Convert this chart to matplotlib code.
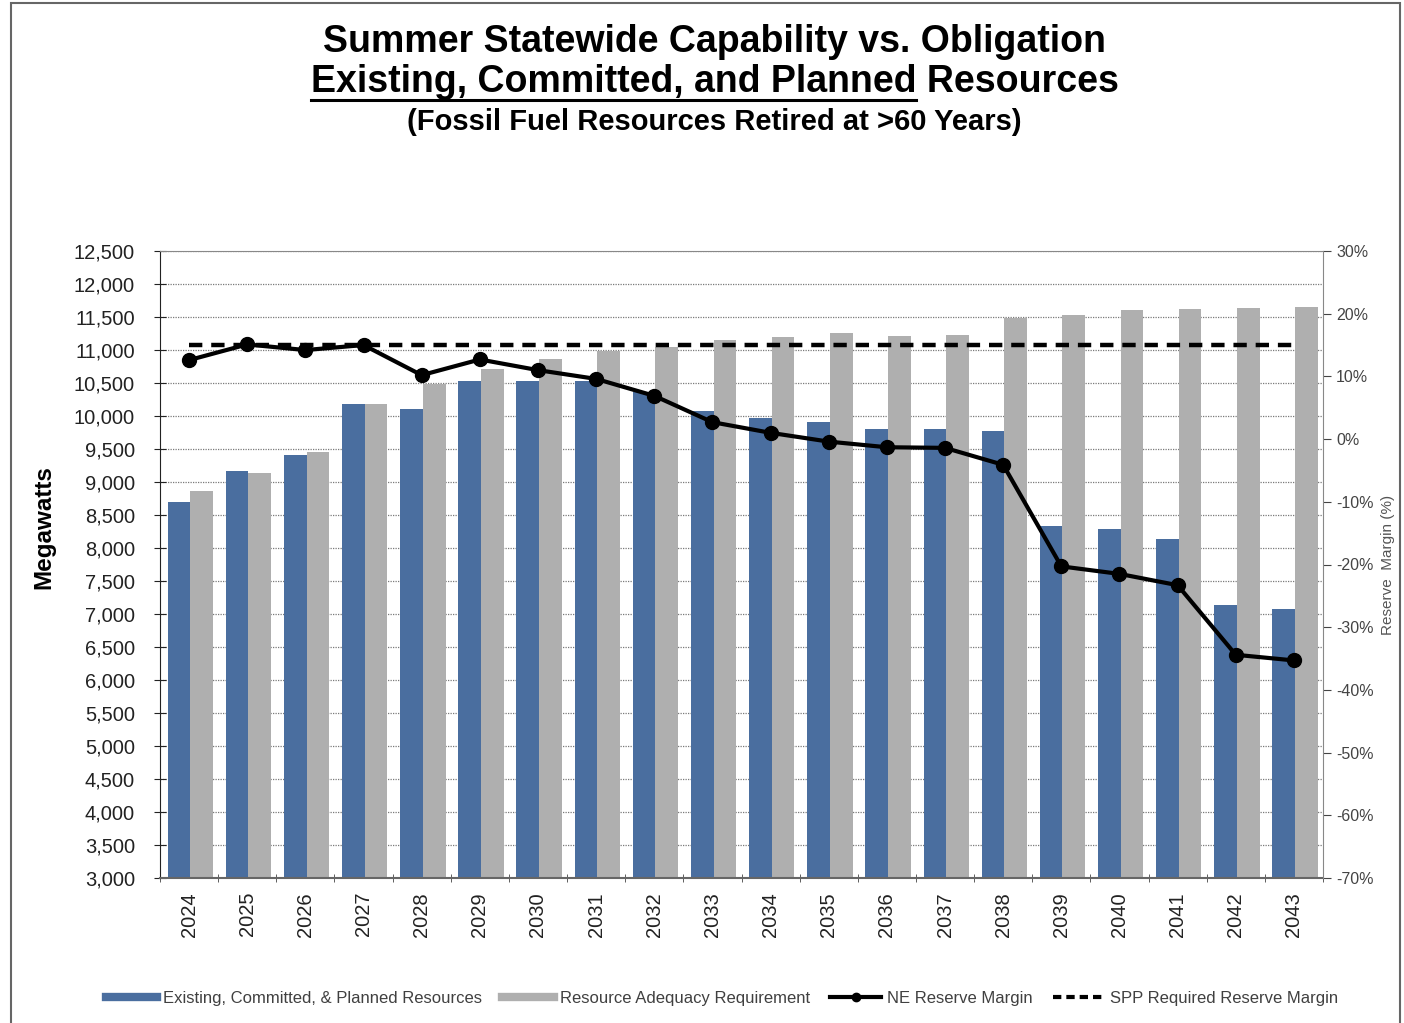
import matplotlib.pyplot as plt
from matplotlib.lines import Line2D
from matplotlib.patches import Rectangle
from matplotlib.ticker import FuncFormatter
import numpy as np

plt.rcParams['font.family'] = ['Liberation Sans', 'DejaVu Sans']

years = ['2024', '2025', '2026', '2027', '2028', '2029', '2030', '2031', '2032', '2033',
         '2034', '2035', '2036', '2037', '2038', '2039', '2040', '2041', '2042', '2043']
resources = [8700, 9160, 9415, 10175, 10100, 10525, 10525, 10525, 10365, 10070,
             9965, 9905, 9805, 9805, 9775, 8335, 8295, 8140, 7135, 7070]
requirement = [8860, 9140, 9460, 10175, 10490, 10710, 10870, 10990, 11045, 11155,
               11190, 11255, 11215, 11225, 11480, 11530, 11605, 11620, 11635, 11650]
ne_margin = [12.6, 15.1, 14.2, 15.0, 10.2, 12.7, 11.0, 9.6, 6.9, 2.7,
             1.0, -0.4, -1.3, -1.4, -4.1, -20.3, -21.5, -23.3, -34.4, -35.3]
spp_margin = [15] * len(years)

blue = '#4A6E9F'
grey = '#AFAFAF'

fig = plt.figure(figsize=(14.04, 10.23), dpi=100)
ax = fig.add_axes([160 / 1404, 1 - 878 / 1023, 1163 / 1404, 627 / 1023])

x = np.arange(len(years))
w = 0.39
ax.bar(x - w / 2 + 0.02, resources, w, color=blue, zorder=2)
ax.bar(x + w / 2 + 0.02, requirement, w, color=grey, zorder=2)

ax.set_xlim(-0.5, len(years) - 0.5)
ax.set_ylim(3000, 12500)
ax.set_yticks(np.arange(3000, 12501, 500))
ax.yaxis.set_major_formatter(FuncFormatter(lambda v, p: f'{int(v):,}'))
ax.grid(axis='y', color='#7a7a7a', linestyle=(0, (1, 1)), linewidth=0.9, zorder=0)
ax.set_xticks(x)
ax.set_xticklabels(years, rotation=90, fontsize=14.5, color='#222222')
ax.set_xticks(np.arange(-0.5, len(years), 1), minor=True)
ax.tick_params(axis='x', which='major', length=0, pad=10)
ax.tick_params(axis='x', which='minor', length=6, direction='inout', color='#444444')
ax.tick_params(axis='y', labelsize=14.5, length=8, direction='inout', colors='#222222', pad=14)
ax.set_ylabel('Megawatts', fontsize=17.5, fontweight='bold')
ax.yaxis.set_label_coords(-0.09, 0.56)
ax.spines['top'].set_color('#888888')
ax.spines['right'].set_visible(False)
ax.spines['bottom'].set_color('#666666')
ax.spines['bottom'].set_linewidth(1.5)
ax.spines['left'].set_color('#222222')

ax2 = ax.twinx()
ax2.plot(x, ne_margin, color='black', lw=3, marker='o', ms=10, zorder=4)
ax2.plot(x, spp_margin, color='black', lw=3.2, linestyle=(0, (3, 2)), zorder=3)
ax2.set_ylim(-70, 30)
ax2.set_yticks(np.arange(-70, 31, 10))
ax2.yaxis.set_major_formatter(FuncFormatter(lambda v, p: f'{int(v)}%'))
ax2.tick_params(axis='y', labelsize=11.5, length=6, direction='out', colors='#444444')
ax2.spines['right'].set_color('#888888')
ax2.spines['top'].set_visible(False)
ax2.spines['left'].set_visible(False)
ax2.spines['bottom'].set_visible(False)
ax2.set_ylabel('Reserve  Margin (%)', fontsize=11, color='#555555')
ax2.yaxis.set_label_coords(1.05, 0.5)

handles = [Line2D([], [], color=blue, lw=6),
           Line2D([], [], color=grey, lw=6),
           Line2D([], [], color='black', lw=3, marker='o', ms=6),
           Line2D([], [], color='black', lw=3, linestyle=(0, (2, 1.2)))]
labels = ['Existing, Committed, & Planned Resources', 'Resource Adequacy Requirement',
          'NE Reserve Margin', 'SPP Required Reserve Margin']
fig.legend(handles, labels, loc='center', bbox_to_anchor=(722 / 1404, 1 - 998 / 1023),
           ncol=4, frameon=False, fontsize=12, handlelength=3.1, handletextpad=0.35,
           columnspacing=1.2, labelcolor='#404040')

# titles
fig.text(0.509, 1 - 42 / 1023, 'Summer Statewide Capability vs. Obligation',
         ha='center', va='center', fontsize=27, fontweight='bold')
t2 = fig.text(0.509, 1 - 82 / 1023, 'Existing, Committed, and Planned Resources',
              ha='center', va='center', fontsize=27, fontweight='bold')
fig.text(0.509, 1 - 122 / 1023, '(Fossil Fuel Resources Retired at >60 Years)',
         ha='center', va='center', fontsize=21, fontweight='bold')

# underline the first part of the second title line
renderer = fig.canvas.get_renderer()
full = t2.get_window_extent(renderer)
tmp = fig.text(0, 0, 'Existing, Committed, and Planned', fontsize=27, fontweight='bold')
part = tmp.get_window_extent(renderer)
tmp.remove()
x0 = full.x0 / fig.bbox.width
x1 = (full.x0 + part.width) / fig.bbox.width
fig.add_artist(Line2D([x0, x1], [1 - 100 / 1023] * 2, color='black', lw=2.2))

fig.add_artist(Rectangle((11 / 1404, -0.01), 1389 / 1404, 1.007, fill=False,
                         edgecolor='#666666', lw=1.5))

fig.savefig('out.png', dpi=100)
